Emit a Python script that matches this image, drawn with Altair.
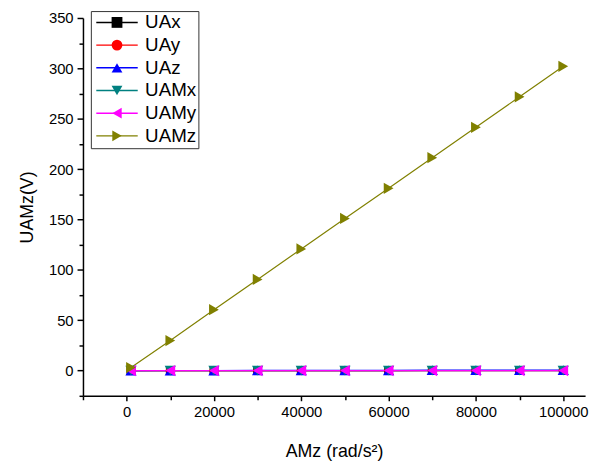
import altair as alt
import pandas as pd

# ---- data ----
x_vals = [1000, 10000, 20000, 30000, 40000, 50000, 60000, 70000, 80000, 90000, 100000]
series_names = ["UAx", "UAy", "UAz", "UAMx", "UAMy", "UAMz"]
uax = [0.0, 0.0, 0.0, 0.0, 0.0, 0.0, 0.0, 0.1, 0.1, 0.1, 0.1]
uay = [0.0, 0.0, 0.0, 0.0, 0.0, 0.0, 0.0, 0.0, 0.0, 0.0, 0.0]
uaz = [0.0, 0.1, 0.1, 0.2, 0.2, 0.3, 0.3, 0.5, 0.5, 0.6, 0.6]
uamx = [0.0, 0.0, 0.0, 0.0, 0.0, 0.0, 0.0, 0.0, 0.0, 0.0, 0.0]
uamy = [0.0, 0.0, 0.0, 0.0, 0.0, 0.0, 0.0, 0.0, 0.0, 0.0, 0.0]
uamz = [3.0, 29.8, 60.5, 90.5, 120.8, 151.0, 181.0, 211.3, 241.5, 271.8, 302.0]
series_values = [uax, uay, uaz, uamx, uamy, uamz]

colors = ["#000000", "#ff0000", "#0000ff", "#008080", "#ff00ff", "#808000"]
shapes = ["square", "circle", "triangle-up", "triangle-down", "triangle-left", "triangle-right"]
x_ticks = list(range(-10000, 100001, 10000))
y_ticks = list(range(-25, 351, 25))

rows = []
for k, (name, vals) in enumerate(zip(series_names, series_values)):
    for i, (xv, yv) in enumerate(zip(x_vals, vals)):
        rows.append({"x": xv, "y": yv, "series": name, "order": k * 100 + i})
df = pd.DataFrame(rows)

FONT = "Liberation Sans"

xscale = alt.Scale(domain=[-10000, 105000], nice=False, zero=False)
yscale = alt.Scale(domain=[-25, 350], nice=False, zero=False)

common_axis = dict(
    grid=False, labelOverlap=False, labelFlush=False, tickCount=100,
    labelFontSize=15, titleFontSize=18, labelFont=FONT, titleFont=FONT,
    titleFontWeight="normal", labelColor="black", titleColor="black",
    domainColor="black", tickColor="black", domainWidth=1.5, tickWidth=1.5,
    labelPadding=4,
)
xaxis = alt.Axis(
    values=x_ticks, format="d",
    labelExpr="datum.value % 20000 === 0 ? datum.label : ''",
    tickSize={"condition": {"test": "datum.value % 20000 === 0", "value": 5}, "value": 4},
    titlePadding=24, **common_axis,
)
yaxis = alt.Axis(
    values=y_ticks, format="d",
    labelExpr="datum.value % 50 === 0 ? datum.label : ''",
    tickSize={"condition": {"test": "datum.value % 50 === 0", "value": 6}, "value": 4},
    titlePadding=12, **common_axis,
)

line_legend = alt.Legend(
    orient="none", legendX=8, legendY=-7, title=None,
    symbolType="M-4.2,0H4.2", symbolSize=100, symbolStrokeWidth=1.5,
    symbolOffset=15, labelOffset=19, labelFontSize=19, labelFont=FONT,
    labelColor="black", padding=2, rowPadding=3, strokeColor="#333333",
    zindex=0,
)
point_legend = alt.Legend(
    orient="none", legendX=8, legendY=-7, title=None,
    symbolSize=120, symbolOffset=15, labelOffset=19, labelFontSize=19,
    labelFont=FONT, labelOpacity=0, padding=2, rowPadding=3, zindex=1,
)

lines = alt.Chart(df).mark_line(strokeWidth=1.2).encode(
    x=alt.X("x:Q", scale=xscale, axis=xaxis, title="AMz (rad/s²)"),
    y=alt.Y("y:Q", scale=yscale, axis=yaxis, title="UAMz(V)"),
    color=alt.Color("series:N", sort=series_names,
                    scale=alt.Scale(range=colors), legend=line_legend),
)

points = alt.Chart(df).mark_point(filled=True, opacity=1).encode(
    x=alt.X("x:Q", scale=xscale),
    y=alt.Y("y:Q", scale=yscale),
    fill=alt.Fill("series:N", scale=alt.Scale(domain=series_names, range=colors),
                  legend=point_legend),
    shape=alt.Shape("series:N", scale=alt.Scale(domain=series_names, range=shapes),
                    legend=point_legend),
    size=alt.condition("datum.series === 'UAx' || datum.series === 'UAy'",
                       alt.value(80), alt.value(130)),
    order=alt.Order("order:Q"),
)

chart = alt.layer(lines, points).properties(
    width=509, height=383,
    autosize=alt.AutoSizeParams(type="none"),
    padding={"left": 76, "top": 7, "right": 7, "bottom": 66},
).configure_view(stroke=None)

chart.save("out.html", embed_options={"renderer": "svg", "actions": False})
